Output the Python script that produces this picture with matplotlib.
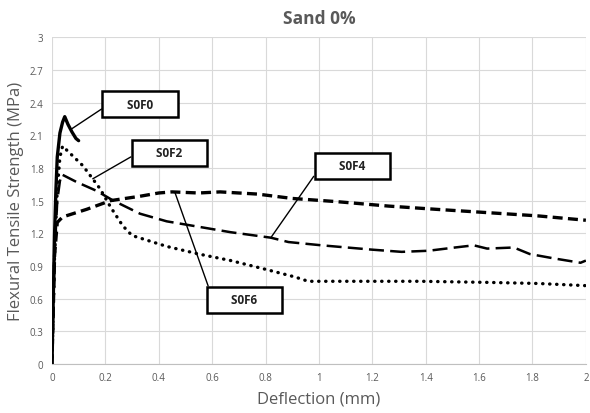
import matplotlib.pyplot as plt

plt.rcParams['font.family'] = ['Open Sans', 'DejaVu Sans']

# S0F0 - solid
x_f0 = [0, 0.005, 0.01, 0.015, 0.02, 0.03, 0.04, 0.048, 0.06, 0.075, 0.09, 0.1]
y_f0 = [0, 0.6, 1.2, 1.6, 1.9, 2.12, 2.22, 2.27, 2.2, 2.13, 2.07, 2.05]

# dotted curve
x_dot = [0, 0.005, 0.01, 0.02, 0.03, 0.04, 0.116, 0.18, 0.22, 0.265, 0.30, 0.43, 0.55,
         0.67, 0.80, 0.91, 0.96, 1.14, 1.38, 1.63, 1.82, 2.0]
y_dot = [0, 0.5, 1.0, 1.6, 1.9, 2.0, 1.82, 1.61, 1.44, 1.27, 1.18, 1.08, 1.01,
         0.95, 0.87, 0.80, 0.76, 0.76, 0.76, 0.75, 0.74, 0.72]

# long dash curve
x_ld = [0, 0.005, 0.01, 0.02, 0.03, 0.037, 0.093, 0.167, 0.23, 0.33, 0.43, 0.55, 0.67,
        0.82, 0.886, 1.01, 1.2, 1.31, 1.41, 1.51, 1.58, 1.63, 1.73, 1.79, 1.88, 1.98, 2.0]
y_ld = [0, 0.5, 1.0, 1.5, 1.68, 1.74, 1.67, 1.59, 1.50, 1.38, 1.31, 1.26, 1.21,
        1.16, 1.12, 1.09, 1.05, 1.03, 1.04, 1.07, 1.09, 1.06, 1.07, 1.01, 0.97, 0.93, 0.95]

# short dash curve
x_sd = [0, 0.005, 0.01, 0.02, 0.04, 0.13, 0.22, 0.33, 0.40, 0.45, 0.55, 0.63, 0.77,
        0.90, 1.07, 1.26, 1.44, 1.63, 1.82, 2.0]
y_sd = [0, 0.5, 1.0, 1.3, 1.35, 1.42, 1.50, 1.54, 1.57, 1.58, 1.57, 1.58, 1.56,
        1.52, 1.49, 1.45, 1.42, 1.39, 1.36, 1.32]

labels = ["S0F0", "S0F2", "S0F4", "S0F6"]
label_pts = [(0.075, 2.16), (0.153, 1.70), (0.82, 1.16), (0.46, 1.58)]
label_box = [(0.33, 2.385), (0.44, 1.94), (1.125, 1.82), (0.72, 0.59)]

fig = plt.figure(figsize=(5.9, 4.14), dpi=100)
ax = fig.add_axes([0.088, 0.118, 0.905, 0.79])

ax.plot(x_sd, y_sd, color='black', lw=2.4, ls=(0, (3, 1.6)))
ax.plot(x_ld, y_ld, color='black', lw=1.8, ls=(0, (6, 2.5)))
ax.plot(x_dot, y_dot, color='black', lw=2.4, ls=(0, (0.1, 2.0)), dash_capstyle='round')
ax.plot(x_f0, y_f0, color='black', lw=2.4, solid_capstyle='round')

for lab, pt, box in zip(labels, label_pts, label_box):
    ax.annotate("      " + lab + "      ", xy=pt, xytext=box, fontsize=8.5, fontweight='bold',
                ha='center', va='center', color='#222222',
                bbox=dict(boxstyle='square,pad=0.55', fc='white', ec='black', lw=1.8),
                arrowprops=dict(arrowstyle='-', color='black', lw=1.0,
                                shrinkA=0, shrinkB=0, relpos=(0, 0.5)))

ax.set_xlim(0, 2)
ax.set_ylim(0, 3)
ax.set_xticks([0, 0.2, 0.4, 0.6, 0.8, 1, 1.2, 1.4, 1.6, 1.8, 2])
ax.set_xticklabels(['0', '0.2', '0.4', '0.6', '0.8', '1', '1.2', '1.4', '1.6', '1.8', '2'])
ax.set_yticks([0, 0.3, 0.6, 0.9, 1.2, 1.5, 1.8, 2.1, 2.4, 2.7, 3])
ax.set_yticklabels(['0', '0.3', '0.6', '0.9', '1.2', '1.5', '1.8', '2.1', '2.4', '2.7', '3'])
ax.tick_params(labelsize=7, colors='#595959', length=0, pad=6)
ax.grid(True, color='#d9d9d9', lw=0.8)
ax.set_axisbelow(True)
for s in ['top', 'right', 'left']:
    ax.spines[s].set_visible(False)
ax.spines['bottom'].set_color('#bfbfbf')

ax.set_title('Sand 0%', fontsize=12.5, fontweight='bold', color='#595959', pad=10)
ax.set_xlabel('Deflection (mm)', fontsize=12, color='#595959', labelpad=5)
ax.set_ylabel('Flexural Tensile Strength (MPa)', fontsize=12, color='#595959', labelpad=4)

fig.savefig('out.png', dpi=100)
